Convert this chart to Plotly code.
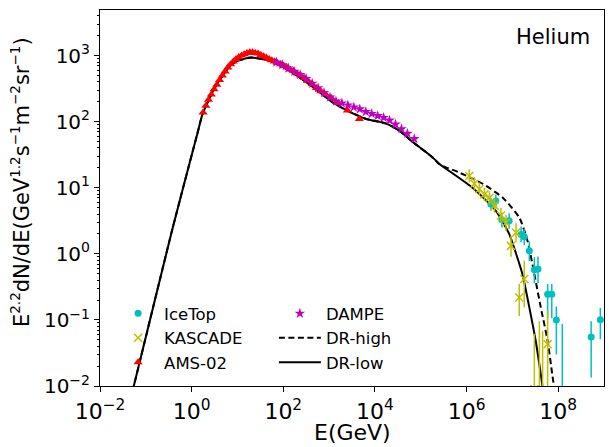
import plotly.graph_objects as go

# ---------------- data ----------------
# AMS-02 helium (E in GeV, E^2.2 dN/dE)
ams_E = [1.78, 2.04, 2.34, 2.69, 3.09, 3.55, 4.07, 4.68, 5.37, 6.17, 7.08, 8.13, 9.33,
         10.7, 12.3, 14.1, 16.2, 18.6, 21.4, 24.5, 28.2, 32.4, 37.2, 42.7, 49.0, 56.2,
         64.6, 74.1, 87.1, 102, 120, 141, 166, 200, 240, 288, 347, 427, 525, 661, 851,
         1122, 1585, 2512, 4571]
ams_F = [138, 174, 214, 257, 309, 363, 427, 501, 575, 661, 741, 813, 891,
         955, 1000, 1047, 1096, 1122, 1122, 1096, 1072, 1023, 977, 933, 891, 851,
         813, 776, 741, 708, 661, 617, 589, 537, 501, 457, 417, 372, 324, 288, 257,
         229, 191, 148, 110]

# DAMPE helium
dampe_E = [70.8, 95.5, 129, 174, 234, 316, 427, 575, 776, 1047, 1413, 1905, 2570, 3467,
           4677, 6310, 8511, 11482, 15488, 20893, 28184, 38019, 51286, 72444]
dampe_F = [794, 724, 646, 575, 513, 447, 380, 324, 275, 234, 204, 191, 178, 166,
           155, 141, 132, 123, 115, 105, 91.2, 77.6, 66.1, 55.0]

# IceTop (value, lower and upper end of error bar)
icetop_E = [3.388e6, 4.365e6, 5.888e6, 8.511e6, 1.549e7, 1.820e7, 2.344e7, 3.020e7,
            3.631e7, 5.888e7, 7.244e7, 9.120e7, 1.230e8, 5.248e8, 8.318e8]
icetop_F = [5.66, 6.31, 3.27, 3.16, 1.97, 1.82, 1.11, 0.575,
            0.589, 0.245, 0.245, 0.100, 0.0025, 0.055, 0.101]
icetop_lo = [4.5, 5.0, 2.5, 2.4, 1.5, 1.35, 0.78, 0.36,
             0.36, 0.107, 0.107, 0.03, 0.0001, 0.0135, 0.051]
icetop_hi = [7.1, 7.9, 4.2, 4.1, 2.6, 2.4, 1.55, 0.89,
             0.91, 0.35, 0.35, 0.16, 0.087, 0.0955, 0.151]

# KASCADE
kascade_E = [1.148e6, 1.479e6, 1.905e6, 2.455e6, 3.162e6, 4.074e6, 5.623e6, 7.244e6,
             9.333e6, 1.202e7, 1.413e7, 1.820e7, 3.020e7, 3.890e7, 4.571e7, 5.888e7]
kascade_F = [15.1, 11.5, 9.55, 7.94, 7.08, 5.37, 3.80, 2.95,
             1.32, 2.09, 0.219, 0.417, 0.0089, 0.0050, 0.0050, 0.0427]
kascade_lo = [12.0, 9.1, 7.6, 6.3, 5.6, 4.2, 2.9, 2.2,
              0.9, 1.5, 0.115, 0.155, 0.0001, 0.0001, 0.0001, 0.0001]
kascade_hi = [19.0, 14.5, 12.0, 10.0, 8.9, 6.9, 5.0, 3.9,
              1.9, 2.9, 0.354, 0.79, 0.0617, 0.0955, 0.0676, 0.138]

# Model curves
drlow_E = [0.0398, 0.0537, 0.372, 1.38, 1.74, 3.16, 6.76, 10.0, 20.0, 50.1, 138, 398,
           1202, 2818, 6457, 17783, 34674, 67608, 181970, 257040, 1.349e6, 4.365e6,
           8.511e6, 1.288e7, 1.660e7, 2.344e7, 3.236e7, 4.169e7, 4.571e7, 5.012e7]
drlow_F = [0.00437, 0.00955, 2.24, 72.4, 132, 320, 692, 832, 933, 832, 589, 355,
           195, 141, 110, 93.3, 72.4, 49.0, 28.8, 22.9, 10.0, 4.47,
           2.00, 0.871, 0.490, 0.155, 0.0479, 0.0151, 0.00955, 0.00501]

drhigh_E = [0.0398, 0.0537, 0.372, 1.38, 1.74, 3.16, 6.76, 10.0, 20.0, 50.1, 138, 398,
            1202, 2818, 6457, 17783, 34674, 67608, 181970, 251189, 354813, 691831,
            2.239e6, 6.166e6, 1.413e7, 2.138e7, 3.020e7, 4.169e7, 5.888e7, 7.413e7,
            8.128e7, 8.913e7]
drhigh_F = [0.00437, 0.00955, 2.24, 72.4, 132, 320, 692, 832, 933, 832, 589, 355,
            195, 141, 110, 93.3, 72.4, 49.0, 28.8, 22.9, 20.4, 17.0,
            11.5, 7.08, 3.55, 1.58, 0.490, 0.155, 0.0479, 0.0151,
            0.00955, 0.00447]

x_tick_vals = [1e-2, 1e0, 1e2, 1e4, 1e6, 1e8]
x_tick_text = ["10<sup>−2</sup>", "10<sup>0</sup>", "10<sup>2</sup>",
               "10<sup>4</sup>", "10<sup>6</sup>", "10<sup>8</sup>"]
y_tick_vals = [1e-2, 1e-1, 1e0, 1e1, 1e2, 1e3]
y_tick_text = ["10<sup>−2</sup>", "10<sup>−1</sup>", "10<sup>0</sup>",
               "10<sup>1</sup>", "10<sup>2</sup>", "10<sup>3</sup>"]

# ---------------- figure ----------------
FONT = "DejaVu Sans"
C_ICE = "#00bfbf"
C_KAS = "#bfbf00"
C_AMS = "#ff0000"
C_DAM = "#bf00bf"

fig = go.Figure()

fig.add_trace(go.Scatter(x=drhigh_E, y=drhigh_F, mode="lines", name="DR-high",
                         line=dict(color="black", width=2, dash="6px,3.5px", shape="spline", smoothing=0.6),
                         legend="legend2", legendrank=2))
fig.add_trace(go.Scatter(x=drlow_E, y=drlow_F, mode="lines", name="DR-low",
                         line=dict(color="black", width=2, shape="spline", smoothing=0.6),
                         legend="legend2", legendrank=3))

fig.add_trace(go.Scatter(
    x=icetop_E, y=icetop_F, mode="markers", name="IceTop",
    marker=dict(symbol="circle", size=7, color=C_ICE),
    error_y=dict(type="data", symmetric=False,
                 array=[h - f for h, f in zip(icetop_hi, icetop_F)],
                 arrayminus=[f - l for f, l in zip(icetop_F, icetop_lo)],
                 color=C_ICE, thickness=1.5, width=0),
    legend="legend", legendrank=1))
fig.add_trace(go.Scatter(
    x=kascade_E, y=kascade_F, mode="markers", name="KASCADE",
    marker=dict(symbol="x-thin", size=8, color=C_KAS, line=dict(color=C_KAS, width=1.5)),
    error_y=dict(type="data", symmetric=False,
                 array=[h - f for h, f in zip(kascade_hi, kascade_F)],
                 arrayminus=[f - l for f, l in zip(kascade_F, kascade_lo)],
                 color=C_KAS, thickness=1.5, width=0),
    legend="legend", legendrank=2))
fig.add_trace(go.Scatter(
    x=ams_E, y=ams_F, mode="markers", name="AMS-02",
    marker=dict(symbol="triangle-up", size=8, color=C_AMS),
    legend="legend", legendrank=3))
fig.add_trace(go.Scatter(
    x=dampe_E, y=dampe_F, mode="markers", name="DAMPE",
    marker=dict(symbol="star", size=8, color=C_DAM),
    legend="legend2", legendrank=1))

minor_y = [m * 10 ** e for e in range(-2, 4) for m in range(2, 10)]

axis_common = dict(type="log", showline=True, linecolor="black", linewidth=1, mirror=True,
                   ticks="outside", ticklen=5, tickwidth=1, tickcolor="black",
                   showgrid=False, zeroline=False)

fig.update_xaxes(range=[-2, 9], tickmode="array", tickvals=x_tick_vals, ticktext=x_tick_text,
                 tickfont=dict(family=FONT, size=22, color="black"), ticklabelstandoff=1,
                 **axis_common)
fig.update_yaxes(range=[-2, 3.69], tickmode="array", tickvals=y_tick_vals, ticktext=y_tick_text,
                 tickfont=dict(family=FONT, size=20, color="black"),
                 minor=dict(tickmode="array", tickvals=minor_y, ticks="outside", ticklen=2.5,
                            tickwidth=0.8, tickcolor="black", showgrid=False),
                 **axis_common)

legend_common = dict(bgcolor="rgba(0,0,0,0)", borderwidth=0, orientation="v",
                     xanchor="left", yanchor="top", traceorder="normal", itemwidth=42,
                     font=dict(family=FONT, size=16.5, color="black"))

S = '<span style="font-size:13.5px">{}</span>'
ytitle = ("E<sup>" + S.format("2.2") + "</sup>dN/dE(GeV<sup>" + S.format("1.2") +
          "</sup>s<sup>" + S.format("−1") + "</sup>m<sup>" + S.format("−2") +
          "</sup>sr<sup>" + S.format("−1") + "</sup>)")

fig.update_layout(
    width=609, height=447,
    margin=dict(l=100, r=5, t=10, b=61),
    paper_bgcolor="white", plot_bgcolor="white",
    showlegend=True,
    legend=dict(x=0.024, y=0.239, **legend_common),
    legend2=dict(x=0.345, y=0.239, **legend_common),
    annotations=[
        dict(text="E(GeV)", xref="paper", yref="paper", x=0.5, y=-0.1622,
             xanchor="center", yanchor="bottom", showarrow=False,
             font=dict(family=FONT, size=22, color="black")),
        dict(text=ytitle,
             xref="paper", yref="paper", x=-0.1587, y=0.5425, textangle=-90,
             xanchor="center", yanchor="middle", showarrow=False,
             font=dict(family=FONT, size=21, color="black")),
        dict(text="Helium", xref="paper", yref="paper", x=0.976, y=0.928,
             xanchor="right", yanchor="middle", showarrow=False,
             font=dict(family=FONT, size=21, color="black")),
    ],
)

fig.write_html("out.html")
